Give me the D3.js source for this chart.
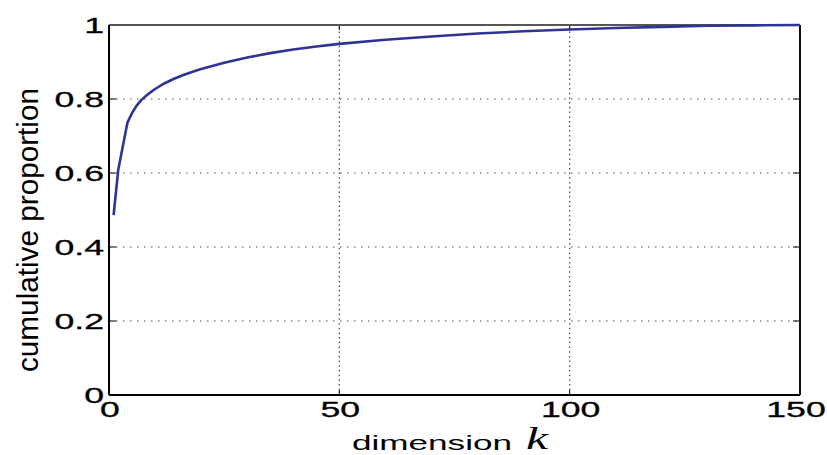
<!DOCTYPE html>
<html>
<head>
<meta charset="utf-8">
<script src="https://cdn.jsdelivr.net/npm/d3@7/dist/d3.min.js"></script>
<style>
  html, body { margin: 0; padding: 0; background: #fff; }
  svg { display: block; }
  text { font-family: "Liberation Sans", Arial, Helvetica, sans-serif; fill: #000; }
</style>
</head>
<body>
<svg id="chart" width="827" height="455"></svg>
<script>
// ---- data ----
const dims = [1, 2, 3, 4, 5, 6, 7, 8, 9, 10, 12, 14, 16, 18, 20, 25, 30, 35, 40, 45, 50, 60, 70, 80, 90, 100, 110, 120, 130, 140, 150];
const cumulative = [0.486, 0.608, 0.672, 0.736, 0.762, 0.782, 0.797, 0.808, 0.818, 0.827, 0.842, 0.854, 0.864, 0.873, 0.881, 0.898, 0.912, 0.924, 0.934, 0.942, 0.949, 0.960, 0.969, 0.977, 0.983, 0.988, 0.992, 0.995, 0.998, 0.999, 1.0];
const xTicks = [0, 50, 100, 150];
const xTickLabels = ["0", "50", "100", "150"];
const yTicks = [0, 0.2, 0.4, 0.6, 0.8, 1];
const yTickLabels = ["0", "0.2", "0.4", "0.6", "0.8", "1"];
const xLabel = "dimension";
const xLabelVar = "k";
const yLabel = "cumulative proportion";

// ---- layout ----
const pLeft = 109, pRight = 800, pTop = 25, pBottom = 395;
const sx = 1.62; // horizontal stretch of text

const svg = d3.select("#chart");
const x = d3.scaleLinear().domain([0, 150]).range([pLeft, pRight]);
const y = d3.scaleLinear().domain([0, 1]).range([pBottom, pTop]);

// grid
const grid = svg.append("g");
grid.selectAll("line.h").data(yTicks.filter(v => v > 0 && v < 1)).enter().append("line")
  .attr("x1", pLeft).attr("x2", pRight)
  .attr("y1", d => y(d)).attr("y2", d => y(d))
  .attr("stroke", "#444").attr("stroke-width", 1.2).attr("stroke-dasharray", "1.5,5.5");
grid.selectAll("line.v").data(xTicks.filter(v => v > 0 && v < 150)).enter().append("line")
  .attr("y1", pBottom).attr("y2", pTop)
  .attr("x1", d => x(d)).attr("x2", d => x(d))
  .attr("stroke", "#444").attr("stroke-width", 1.2).attr("stroke-dasharray", "1.5,3.2");

// inward ticks on all sides
const tk = 7;
const ticks = svg.append("g").attr("stroke", "#000").attr("stroke-width", 1);
yTicks.forEach(v => {
  ticks.append("line").attr("x1", pLeft).attr("x2", pLeft + tk).attr("y1", y(v)).attr("y2", y(v));
  ticks.append("line").attr("x1", pRight).attr("x2", pRight - tk).attr("y1", y(v)).attr("y2", y(v));
});
xTicks.forEach(v => {
  ticks.append("line").attr("x1", x(v)).attr("x2", x(v)).attr("y1", pBottom).attr("y2", pBottom - 5);
  ticks.append("line").attr("x1", x(v)).attr("x2", x(v)).attr("y1", pTop).attr("y2", pTop + 5);
});

// box
svg.append("line").attr("x1", pLeft).attr("x2", pRight).attr("y1", pTop).attr("y2", pTop)
  .attr("stroke", "#555").attr("stroke-width", 2);
svg.append("line").attr("x1", pRight).attr("x2", pRight).attr("y1", pTop).attr("y2", pBottom)
  .attr("stroke", "#111").attr("stroke-width", 2);
svg.append("line").attr("x1", pLeft).attr("x2", pRight).attr("y1", pBottom).attr("y2", pBottom)
  .attr("stroke", "#000").attr("stroke-width", 2);
svg.append("line").attr("x1", pLeft).attr("x2", pLeft).attr("y1", pTop).attr("y2", pBottom)
  .attr("stroke", "#000").attr("stroke-width", 2);

// curve
const pts = dims.map((d, i) => [d, cumulative[i]]);
svg.append("path").datum(pts)
  .attr("fill", "none").attr("stroke", "#2e3494").attr("stroke-width", 2.6)
  .attr("stroke-linejoin", "round")
  .attr("d", d3.line().x(d => x(d[0])).y(d => y(d[1])).curve(d3.curveLinear));

// y tick labels
yTicks.forEach((v, i) => {
  svg.append("text")
    .attr("transform", `translate(104,${y(v)}) scale(${sx},1)`)
    .attr("text-anchor", "end").attr("dy", "0.36em")
    .style("font-size", "22px")
    .attr("stroke", "#000").attr("stroke-width", 0.3)
    .text(yTickLabels[i]);
});
// x tick labels
xTicks.forEach((v, i) => {
  svg.append("text")
    .attr("transform", `translate(${x(v) + (i === xTicks.length - 1 ? -4 : 1)},417) scale(${sx},1)`)
    .attr("text-anchor", "middle")
    .style("font-size", "22px")
    .attr("stroke", "#000").attr("stroke-width", 0.3)
    .text(xTickLabels[i]);
});

// x label
svg.append("text")
  .attr("x", 352).attr("y", 450)
  .attr("textLength", 160).attr("lengthAdjust", "spacingAndGlyphs")
  .style("font-size", "20px")
  .text(xLabel);
svg.append("text")
  .attr("x", 526).attr("y", 449)
  .attr("textLength", 22).attr("lengthAdjust", "spacingAndGlyphs")
  .style("font-size", "32px").style("font-style", "italic")
  .style("font-family", "'Liberation Serif', 'DejaVu Serif', serif")
  .text(xLabelVar);

// y label
svg.append("text")
  .attr("transform", "translate(38,230) rotate(-90)")
  .attr("text-anchor", "middle")
  .attr("textLength", 284).attr("lengthAdjust", "spacingAndGlyphs")
  .style("font-size", "30px")
  .text(yLabel);
</script>
</body>
</html>
